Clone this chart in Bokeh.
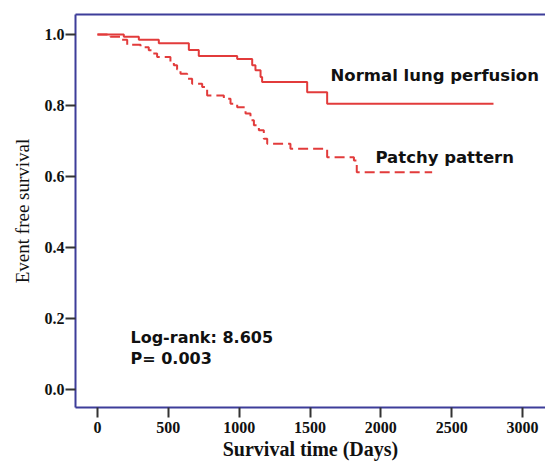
from bokeh.plotting import figure
from bokeh.models import Label, LinearAxis, FixedTicker, Range1d, NumeralTickFormatter
from bokeh.embed import file_html
from bokeh.resources import INLINE

# ---- data ----
normal_times = [0, 186, 292, 433, 645, 715, 986, 1092, 1115, 1151, 1162, 1480, 1621]
normal_surv = [1.0, 0.993, 0.985, 0.975, 0.956, 0.939, 0.931, 0.913, 0.899, 0.880, 0.866, 0.837, 0.805]
normal_last = 2795

patchy_times = [0, 92, 162, 210, 304, 362, 386, 421, 515, 539, 562, 586, 633, 668, 739, 774,
                892, 939, 986, 1045, 1080, 1104, 1139, 1174, 1198, 1362, 1621, 1810, 1830]
patchy_surv = [1.0, 0.993, 0.985, 0.971, 0.964, 0.955, 0.946, 0.936, 0.922, 0.913, 0.901, 0.889,
               0.875, 0.861, 0.852, 0.828, 0.819, 0.805, 0.795, 0.777, 0.758, 0.744, 0.730, 0.706,
               0.692, 0.678, 0.654, 0.645, 0.612]
patchy_last = 2362

x_ticks = [0, 500, 1000, 1500, 2000, 2500, 3000]
y_ticks = [0.0, 0.2, 0.4, 0.6, 0.8, 1.0]

series_labels = ["Normal lung perfusion", "Patchy pattern"]
stats_lines = ["Log-rank: 8.605", "P= 0.003"]

RED = "#e23b3b"
BLUE = "#3d3d99"
TICK = "#333333"
SERIF = "Liberation Serif"
SANS = "DejaVu Sans"

p = figure(width=545, height=465, x_range=Range1d(-155, 3162), y_range=Range1d(-0.0507, 1.056),
           output_backend="svg", toolbar_location=None,
           min_border_left=75, min_border_right=0, min_border_top=14, min_border_bottom=58)
p.outline_line_color = None
p.grid.visible = False
p.background_fill_color = "white"

p.step(x=normal_times + [normal_last], y=normal_surv + [normal_surv[-1]], mode="after",
       line_color=RED, line_width=2)
p.step(x=patchy_times + [patchy_last], y=patchy_surv + [patchy_surv[-1]], mode="after",
       line_color=RED, line_width=2, line_dash="10 5")

p.xaxis.ticker = FixedTicker(ticks=x_ticks)
p.yaxis.ticker = FixedTicker(ticks=y_ticks)
p.yaxis.formatter = NumeralTickFormatter(format="0.0")
p.xaxis.formatter = NumeralTickFormatter(format="0")
for ax in (p.xaxis[0], p.yaxis[0]):
    ax.axis_line_color = BLUE
    ax.axis_line_width = 2
    ax.major_tick_line_color = TICK
    ax.major_tick_line_width = 2
    ax.major_tick_out = 10
    ax.major_tick_in = 0
    ax.minor_tick_out = 0
    ax.minor_tick_in = 0
    ax.major_label_text_font = SERIF
    ax.major_label_text_font_style = "bold"
    ax.major_label_text_font_size = "16px"
    ax.major_label_text_color = "#111111"
    ax.axis_label_text_font = SERIF
    ax.axis_label_text_color = "#111111"

p.xaxis.axis_label = "Survival time (Days)"
p.xaxis.axis_label_text_font_style = "bold"
p.xaxis.axis_label_text_font_size = "20px"
p.xaxis.major_label_standoff = 4
p.xaxis.axis_label_standoff = 2
p.yaxis.axis_label = "Event free survival"
p.yaxis.axis_label_text_font_style = "normal"
p.yaxis.axis_label_text_font_size = "19px"
p.yaxis.major_label_standoff = 1
p.yaxis.axis_label_standoff = 9

top = LinearAxis(ticker=FixedTicker(ticks=[]), major_label_text_font_size="0px",
                 major_tick_out=0, major_tick_in=0, minor_tick_out=0, minor_tick_in=0,
                 major_label_standoff=0, axis_line_color=BLUE, axis_line_width=2)
p.add_layout(top, "above")

label_kw = dict(text_font=SANS, text_font_style="bold",
                text_color="#111111", text_baseline="middle")
p.add_layout(Label(x=1645, y=0.885, text=series_labels[0], text_font_size="16.5px", **label_kw))
p.add_layout(Label(x=1962, y=0.654, text=series_labels[1], text_font_size="16.5px", **label_kw))
p.add_layout(Label(x=233, y=0.146, text=stats_lines[0], text_font_size="16px", **label_kw))
p.add_layout(Label(x=233, y=0.087, text=stats_lines[1], text_font_size="16px", **label_kw))

open("out.html", "w").write(file_html(p, INLINE))
